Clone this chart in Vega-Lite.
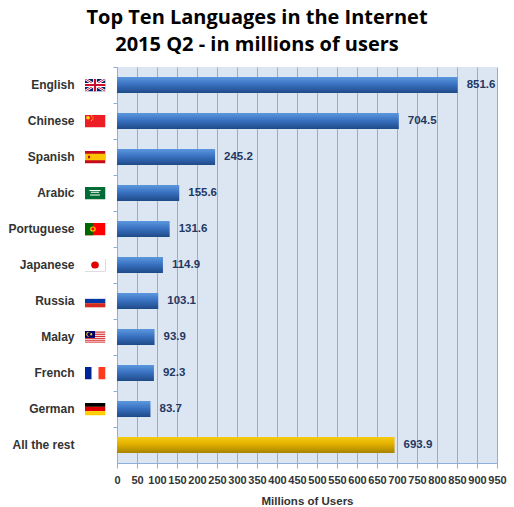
{
  "$schema": "https://vega.github.io/schema/vega-lite/v6.json",
  "width": 380,
  "height": 396,
  "autosize": {"type": "none"},
  "padding": {"left": 117, "top": 67, "right": 17, "bottom": 44},
  "background": "white",
  "title": {
    "text": ["Top Ten Languages in the Internet", "2015 Q2 - in millions of users"],
    "font": "Open Sans",
    "fontSize": 20,
    "fontWeight": "bold",
    "color": "black",
    "lineHeight": 27,
    "anchor": "middle",
    "frame": "group",
    "dx": -50,
    "offset": 12
  },
  "config": {
    "view": {"stroke": null, "fill": "#dce6f2"},
    "axis": {
      "labelFont": "Liberation Sans",
      "labelFontWeight": "bold",
      "labelFontSize": 12,
      "labelColor": "#333333",
      "titleFont": "Liberation Sans",
      "titleFontWeight": "bold",
      "titleFontSize": 11.5,
      "titleColor": "#333333",
      "domainColor": "#8eaedb",
      "tickColor": "#8eaedb",
      "gridColor": "#8eaedb",
      "gridOpacity": 1
    }
  },
  "data": {
    "values": [
      {"language": "English", "users": 851.6, "rest": false, "flag": "data:image/svg+xml;utf8,<svg xmlns='http://www.w3.org/2000/svg' viewBox='0 0 60 36' preserveAspectRatio='none'><rect width='60' height='36' fill='%23012169'/><path d='M0,0L60,36M60,0L0,36' stroke='white' stroke-width='7'/><path d='M0,0L60,36M60,0L0,36' stroke='%23C8102E' stroke-width='2.5'/><path d='M30,0V36M0,18H60' stroke='white' stroke-width='11'/><path d='M30,0V36M0,18H60' stroke='%23C8102E' stroke-width='6'/></svg>"},
      {"language": "Chinese", "users": 704.5, "rest": false, "flag": "data:image/svg+xml;utf8,<svg xmlns='http://www.w3.org/2000/svg' viewBox='0 0 30 20' preserveAspectRatio='none'><rect width='30' height='20' fill='%23ee1c25'/><circle cx='5' cy='5' r='2.6' fill='%23ffde00'/><circle cx='10' cy='2' r='0.9' fill='%23ffde00'/><circle cx='12' cy='4' r='0.9' fill='%23ffde00'/><circle cx='12' cy='7' r='0.9' fill='%23ffde00'/><circle cx='10' cy='9' r='0.9' fill='%23ffde00'/></svg>"},
      {"language": "Spanish", "users": 245.2, "rest": false, "flag": "data:image/svg+xml;utf8,<svg xmlns='http://www.w3.org/2000/svg' viewBox='0 0 30 20' preserveAspectRatio='none'><rect width='30' height='20' fill='%23c60b1e'/><rect y='5' width='30' height='10' fill='%23ffc400'/><rect x='5' y='8' width='3' height='4' fill='%23ad1519'/></svg>"},
      {"language": "Arabic", "users": 155.6, "rest": false, "flag": "data:image/svg+xml;utf8,<svg xmlns='http://www.w3.org/2000/svg' viewBox='0 0 30 20' preserveAspectRatio='none'><rect width='30' height='20' fill='%23006c35'/><path d='M7,6h16M9,9h12M8,13h14' stroke='white' stroke-width='1.6'/></svg>"},
      {"language": "Portuguese", "users": 131.6, "rest": false, "flag": "data:image/svg+xml;utf8,<svg xmlns='http://www.w3.org/2000/svg' viewBox='0 0 30 20' preserveAspectRatio='none'><rect width='30' height='20' fill='%23ff0000'/><rect width='12' height='20' fill='%23006600'/><circle cx='12' cy='10' r='4' fill='%23ffcc00'/><circle cx='12' cy='10' r='2.2' fill='%23ff0000'/></svg>"},
      {"language": "Japanese", "users": 114.9, "rest": false, "flag": "data:image/svg+xml;utf8,<svg xmlns='http://www.w3.org/2000/svg' viewBox='0 0 30 20' preserveAspectRatio='none'><rect width='30' height='20' fill='white' stroke='%23999999' stroke-width='1'/><circle cx='15' cy='10' r='5.5' fill='%23e00000'/></svg>"},
      {"language": "Russia", "users": 103.1, "rest": false, "flag": "data:image/svg+xml;utf8,<svg xmlns='http://www.w3.org/2000/svg' viewBox='0 0 30 21' preserveAspectRatio='none'><rect width='30' height='21' fill='white' stroke='%23bbbbbb' stroke-width='0.6'/><rect y='7' width='30' height='7' fill='%230039a6'/><rect y='14' width='30' height='7' fill='%23d52b1e'/></svg>"},
      {"language": "Malay", "users": 93.9, "rest": false, "flag": "data:image/svg+xml;utf8,<svg xmlns='http://www.w3.org/2000/svg' viewBox='0 0 28 14' preserveAspectRatio='none'><rect width='28' height='14' fill='white'/><path d='M0,0.5H28M0,2.5H28M0,4.5H28M0,6.5H28M0,8.5H28M0,10.5H28M0,12.5H28' stroke='%23cc0001' stroke-width='1'/><rect width='14' height='8' fill='%23010066'/><circle cx='5' cy='4' r='2.6' fill='%23ffcc00'/><circle cx='6' cy='4' r='2.2' fill='%23010066'/><circle cx='9' cy='4' r='1.3' fill='%23ffcc00'/></svg>"},
      {"language": "French", "users": 92.3, "rest": false, "flag": "data:image/svg+xml;utf8,<svg xmlns='http://www.w3.org/2000/svg' viewBox='0 0 30 20' preserveAspectRatio='none'><rect width='30' height='20' fill='white'/><rect width='10' height='20' fill='%23002395'/><rect x='20' width='10' height='20' fill='%23ff3b1f'/></svg>"},
      {"language": "German", "users": 83.7, "rest": false, "flag": "data:image/svg+xml;utf8,<svg xmlns='http://www.w3.org/2000/svg' viewBox='0 0 30 21' preserveAspectRatio='none'><rect width='30' height='7' fill='black'/><rect y='7' width='30' height='7' fill='%23dd0000'/><rect y='14' width='30' height='7' fill='%23ffce00'/></svg>"},
      {"language": "All the rest", "users": 693.9, "rest": true, "flag": null}
    ]
  },
  "encoding": {
    "y": {
      "field": "language",
      "type": "nominal",
      "sort": null,
      "scale": {"paddingInner": 0, "paddingOuter": 0},
      "axis": {
        "title": null,
        "bandPosition": 0,
        "tickSize": 4,
        "labelPadding": 39,
        "domainColor": "#8eaedb"
      }
    },
    "x": {
      "field": "users",
      "type": "quantitative",
      "scale": {"domain": [0, 950], "nice": false},
      "axis": {
        "title": "Millions of Users",
        "values": [0, 50, 100, 150, 200, 250, 300, 350, 400, 450, 500, 550, 600, 650, 700, 750, 800, 850, 900, 950],
        "tickSize": 5,
        "labelPadding": 6,
        "labelFontSize": 11,
        "labelFlush": false,
        "labelOverlap": false,
        "titlePadding": 10,
        "grid": true
      }
    }
  },
  "layer": [
    {
      "transform": [{"filter": "!datum.rest"}],
      "mark": {
        "type": "bar",
        "height": {"band": 0.44},
        "color": {
          "gradient": "linear", "x1": 0, "y1": 0, "x2": 0, "y2": 1,
          "stops": [
            {"offset": 0, "color": "#5b97de"},
            {"offset": 0.45, "color": "#3a73c2"},
            {"offset": 1, "color": "#1e4a88"}
          ]
        }
      }
    },
    {
      "transform": [{"filter": "datum.rest"}],
      "mark": {
        "type": "bar",
        "height": {"band": 0.44},
        "color": {
          "gradient": "linear", "x1": 0, "y1": 0, "x2": 0, "y2": 1,
          "stops": [
            {"offset": 0, "color": "#f7cc10"},
            {"offset": 0.45, "color": "#e2b000"},
            {"offset": 1, "color": "#a88300"}
          ]
        }
      }
    },
    {
      "mark": {
        "type": "text",
        "align": "left",
        "baseline": "middle",
        "dx": 9,
        "font": "Liberation Sans",
        "fontWeight": "bold",
        "fontSize": 11.5,
        "color": "#1f3864"
      },
      "encoding": {
        "text": {"field": "users", "type": "quantitative", "format": ".1f"}
      }
    },
    {
      "transform": [{"filter": "datum.flag != null"}],
      "mark": {
        "type": "image",
        "width": 21,
        "height": 13,
        "aspect": false,
        "align": "center",
        "baseline": "middle",
        "xOffset": -22
      },
      "encoding": {
        "x": {"datum": 0},
        "url": {"field": "flag", "type": "nominal"}
      }
    }
  ]
}
